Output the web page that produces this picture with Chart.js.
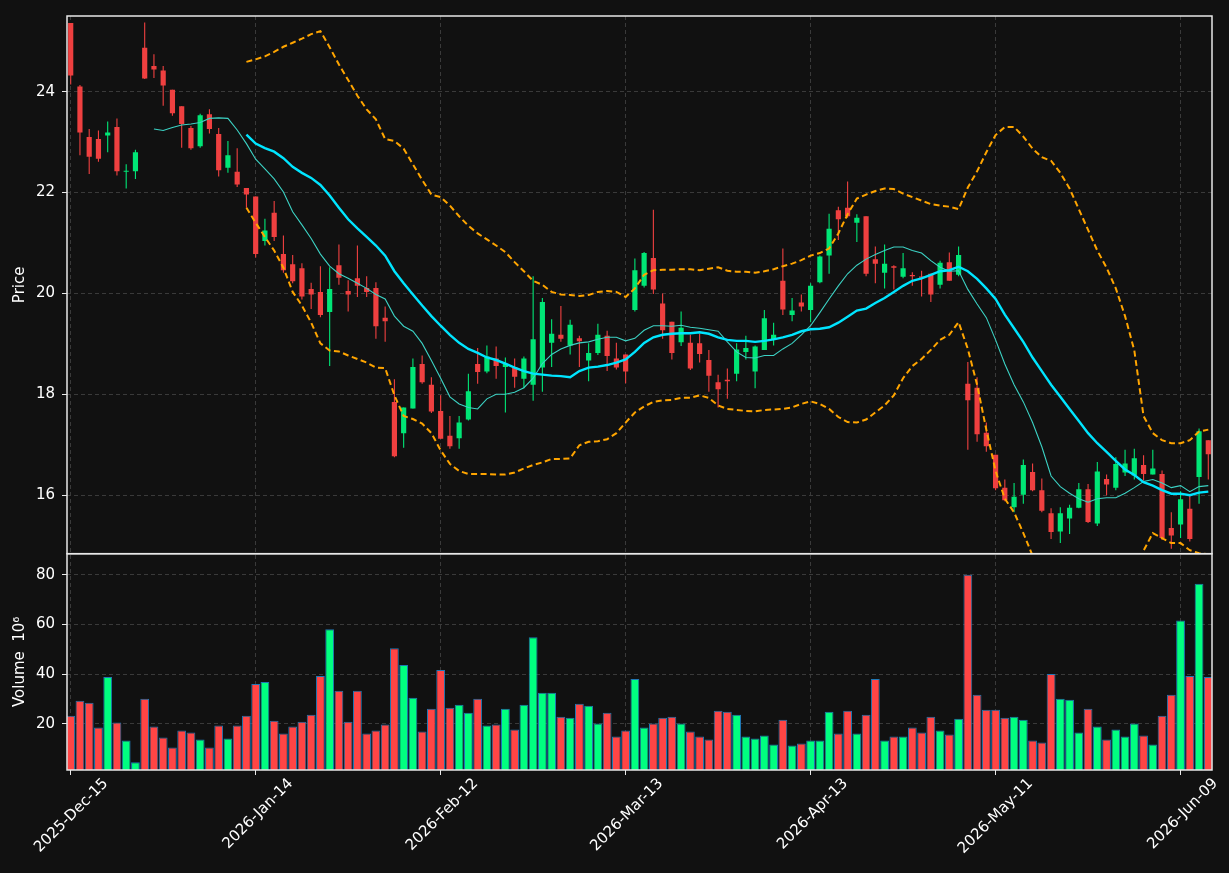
<!DOCTYPE html>
<html>
<head>
<meta charset="utf-8">
<script src="https://cdn.jsdelivr.net/npm/chart.js@4.4.1/dist/chart.umd.min.js"></script>
<style>
html,body{margin:0;padding:0;background:#111111;}
#wrap{width:1229px;height:873px;position:relative;}
canvas{display:block;}
</style>
</head>
<body>
<div id="wrap"><canvas id="c" width="1229" height="873"></canvas></div>
<script>
// ---------- data ----------
const tickLabels = ['2025-Dec-15','2026-Jan-14','2026-Feb-12','2026-Mar-13','2026-Apr-13','2026-May-11','2026-Jun-09'];
const tickIndex = [0,20,40,60,80,100,120];

const openP = [25.36,24.10,23.10,23.06,23.13,23.30,22.41,22.42,24.87,24.51,
24.42,24.04,23.71,23.28,22.92,23.55,23.16,22.49,22.41,22.09,
21.92,21.04,21.60,20.78,20.58,20.50,20.09,20.03,19.63,20.56,
20.05,20.30,20.11,20.11,19.52,17.85,17.23,17.72,18.60,18.19,
17.67,17.18,17.13,17.50,18.60,18.45,18.71,18.54,18.54,18.31,
18.19,18.53,19.02,19.18,18.97,19.11,18.67,18.82,19.16,18.71,
18.79,19.67,20.15,20.70,19.80,19.44,19.03,19.02,19.01,18.68,
18.24,18.29,18.41,18.84,18.45,18.88,19.08,20.25,19.57,19.82,
19.67,20.22,20.75,21.65,21.70,21.40,21.53,20.68,20.41,20.54,
20.33,20.36,20.33,20.39,20.17,20.62,20.37,18.21,18.13,17.24,
16.80,16.15,15.76,16.01,16.46,16.10,15.64,15.28,15.54,15.75,
16.12,15.44,16.32,16.15,16.45,16.39,16.60,16.41,16.42,15.35,
15.42,15.73,16.36,17.09];
const highP = [25.36,24.13,23.26,23.23,23.41,23.47,22.56,22.85,25.37,24.74,
24.51,24.04,23.71,23.32,23.56,23.65,23.28,23.02,22.88,22.09,
21.92,21.48,21.83,21.15,20.76,20.60,20.21,20.54,20.52,20.97,
20.26,20.95,20.34,20.22,19.74,18.30,17.74,18.71,18.77,18.34,
17.98,17.57,17.57,18.41,18.92,18.97,18.95,18.73,18.71,18.75,
20.34,19.91,19.49,19.75,19.48,19.16,19.01,19.40,19.26,19.02,
18.79,20.69,20.82,21.66,20.00,19.44,19.64,19.18,19.20,18.88,
18.39,18.51,19.01,19.16,18.97,19.67,19.42,20.89,19.91,19.98,
20.20,20.75,21.58,21.72,22.22,21.57,21.53,20.93,20.97,20.56,
20.80,20.42,20.45,20.39,20.65,20.81,20.93,18.64,18.34,17.44,
16.80,16.31,16.24,16.71,16.63,16.33,15.74,15.76,15.81,16.24,
16.22,16.66,16.41,16.75,16.90,16.92,16.79,16.90,16.49,15.66,
16.08,16.01,17.32,17.09];
const lowP = [24.14,22.74,22.37,22.61,22.80,22.34,22.08,22.27,24.25,24.27,
23.72,23.52,22.89,22.85,22.89,23.17,22.32,22.39,22.11,21.70,
20.71,20.95,21.04,20.41,20.20,19.88,19.69,19.53,18.56,20.17,
19.64,19.93,19.93,19.10,19.04,16.75,16.94,17.72,18.21,17.63,
17.12,16.92,16.92,17.48,18.21,18.42,18.31,17.64,18.13,18.12,
17.87,18.05,18.54,19.04,18.79,18.54,18.26,18.78,18.46,18.49,
18.22,19.64,20.12,19.99,19.10,18.69,18.96,18.48,18.63,18.05,
17.74,17.91,18.26,18.69,18.12,18.88,18.97,19.57,19.45,19.64,
19.43,20.20,20.39,21.06,21.50,21.02,20.34,20.20,20.10,20.08,
20.30,20.15,19.94,19.83,20.10,20.25,20.34,16.90,17.06,16.86,
16.10,15.88,15.66,15.83,16.08,15.66,15.13,15.05,15.23,15.74,
15.45,15.39,16.00,16.10,16.38,16.31,16.29,16.41,15.11,14.94,
15.15,15.08,15.83,16.31];
const closeP = [24.32,23.19,22.71,22.67,23.19,22.42,22.43,22.80,24.26,24.44,
24.12,23.57,23.36,22.88,23.53,23.26,22.44,22.74,22.16,21.96,
20.78,21.25,21.12,20.46,20.24,19.94,19.98,19.57,20.09,20.31,
19.98,20.15,20.03,19.35,19.45,16.77,17.74,18.54,18.24,17.66,
17.12,16.97,17.44,18.06,18.44,18.75,18.56,18.60,18.35,18.71,
19.09,19.83,19.20,19.10,19.38,19.05,18.82,19.18,18.76,18.53,
18.45,20.46,20.80,20.08,19.27,18.82,19.32,18.51,18.80,18.37,
18.10,18.26,18.89,18.92,18.95,19.51,19.18,19.68,19.66,19.74,
20.15,20.73,21.28,21.47,21.53,21.50,20.39,20.59,20.59,20.51,
20.50,20.34,20.31,19.98,20.61,20.25,20.76,17.88,17.21,16.97,
16.14,15.90,15.97,16.60,16.10,15.69,15.27,15.64,15.75,16.12,
15.47,16.47,16.21,16.62,16.63,16.73,16.42,16.53,15.15,15.20,
15.92,15.13,17.27,16.81];

const volume = [23.2,29.2,28.4,18.4,38.8,20.4,13.2,4.4,30.0,18.8,
14.4,10.4,17.2,16.4,13.6,10.4,19.2,14.0,19.2,23.2,
36.0,36.8,21.2,16.0,18.8,20.8,23.6,39.2,58.0,33.2,
20.8,33.2,16.0,17.2,19.6,50.4,43.6,30.4,16.8,26.0,
41.6,26.4,27.6,24.4,30.0,19.2,19.6,26.0,17.6,27.6,
54.8,32.4,32.4,22.8,22.4,28.0,27.2,20.0,24.4,14.8,
17.2,38.0,18.4,20.0,22.4,22.8,20.0,16.8,14.8,13.6,
25.2,24.8,23.6,14.8,14.0,15.2,11.6,21.6,11.2,12.0,
13.2,13.2,24.8,16.0,25.2,16.0,23.6,38.0,13.2,14.8,
14.8,18.4,16.4,22.8,17.2,15.6,22.0,80.0,31.6,25.6,
25.6,22.4,22.8,21.6,13.2,12.4,40.0,30.0,29.6,16.4,
26.0,18.8,13.6,17.6,14.8,20.0,15.2,11.6,23.2,31.6,
61.6,39.2,76.4,38.8];

// moving averages and bands (first index given separately)
const ma10Start = 9;
const ma10 = [23.26,23.23,23.29,23.34,23.36,23.39,23.47,23.48,23.47,23.24,
22.97,22.66,22.47,22.27,22.01,21.62,21.36,21.09,20.78,20.54,
20.39,20.30,20.20,20.10,19.98,19.89,19.55,19.35,19.25,19.01,
18.67,18.32,17.95,17.81,17.74,17.71,17.91,18.00,18.00,18.04,
18.13,18.32,18.61,18.79,18.90,18.97,19.02,19.04,19.09,19.13,
19.13,19.06,19.11,19.27,19.36,19.36,19.35,19.37,19.33,19.31,
19.28,19.25,19.04,18.84,18.73,18.72,18.77,18.77,18.90,19.01,
19.18,19.36,19.62,19.89,20.15,20.39,20.56,20.68,20.77,20.85,
20.92,20.92,20.85,20.80,20.65,20.52,20.44,20.45,20.08,19.79,
19.52,19.08,18.60,18.19,17.85,17.44,16.96,16.38,16.17,16.04,
15.93,15.86,15.93,15.95,15.95,16.04,16.15,16.27,16.31,16.24,
16.15,16.19,16.07,16.17,16.19];
const ma20Start = 19;
const ma20 = [23.15,22.97,22.88,22.81,22.68,22.51,22.39,22.29,22.15,21.94,
21.70,21.47,21.29,21.12,20.95,20.75,20.44,20.20,19.98,19.76,
19.55,19.36,19.18,19.02,18.90,18.82,18.73,18.68,18.61,18.53,
18.46,18.41,18.39,18.37,18.36,18.34,18.46,18.53,18.55,18.58,
18.63,18.69,18.84,19.02,19.13,19.18,19.20,19.21,19.21,19.23,
19.20,19.13,19.08,19.06,19.06,19.04,19.06,19.09,19.13,19.18,
19.25,19.29,19.30,19.33,19.42,19.54,19.66,19.70,19.81,19.91,
20.03,20.15,20.25,20.30,20.37,20.44,20.46,20.53,20.44,20.29,
20.10,19.89,19.58,19.31,19.04,18.73,18.46,18.19,17.95,17.71,
17.47,17.23,17.03,16.86,16.68,16.51,16.40,16.26,16.19,16.10,
16.03,16.03,16.00,16.05,16.07];
const bandStart = 19;
const bandUpper = [24.59,24.64,24.70,24.79,24.89,24.97,25.05,25.14,25.20,24.88,
24.54,24.23,23.92,23.65,23.45,23.06,23.02,22.87,22.56,22.25,
21.96,21.91,21.74,21.53,21.34,21.19,21.07,20.95,20.82,20.62,
20.44,20.25,20.17,20.03,19.98,19.97,19.95,19.97,20.03,20.05,
20.03,19.93,20.10,20.37,20.46,20.47,20.47,20.48,20.48,20.46,
20.49,20.52,20.45,20.43,20.43,20.41,20.44,20.48,20.54,20.59,
20.66,20.75,20.80,20.89,21.19,21.57,21.88,21.96,22.03,22.08,
22.07,21.98,21.91,21.84,21.77,21.74,21.72,21.67,22.10,22.42,
22.80,23.14,23.30,23.30,23.11,22.87,22.70,22.63,22.39,22.08,
21.67,21.26,20.85,20.51,20.10,19.55,18.87,17.57,17.23,17.09,
17.03,17.03,17.09,17.26,17.30];
const bandLower = [21.70,21.40,21.12,20.85,20.51,20.03,19.76,19.42,19.01,18.87,
18.85,18.77,18.70,18.63,18.53,18.52,17.98,17.57,17.51,17.42,
17.23,16.89,16.62,16.48,16.42,16.42,16.42,16.41,16.41,16.45,
16.53,16.60,16.65,16.72,16.72,16.73,16.99,17.06,17.07,17.11,
17.23,17.44,17.64,17.76,17.85,17.88,17.89,17.93,17.93,17.98,
17.93,17.78,17.71,17.69,17.67,17.66,17.69,17.70,17.71,17.74,
17.81,17.86,17.81,17.71,17.55,17.45,17.44,17.50,17.64,17.78,
17.98,18.32,18.56,18.70,18.88,19.08,19.18,19.43,18.90,18.19,
17.30,16.48,15.93,15.66,15.25,14.80,14.22,13.75,13.51,13.34,
13.27,13.20,13.21,13.21,13.26,13.47,13.93,14.90,15.25,15.15,
15.05,15.05,14.91,14.85,14.83];

// ---------- styling ----------
const UP = '#00e676', DOWN = '#ef4040';
const VUP = '#00ff80', VDOWN = '#ff4545';
const GRID = '#3a3a3a';
const FONT = 'DejaVu Sans';
const XMIN = -0.4, XMAX = 123.4;

const isUp = i => closeP[i] >= openP[i];
const series = (arr, start) => arr.map((v, k) => ({x: start + k, y: v}));

const wickData = highP.map((h, i) => ({x: i, y: [lowP[i], h]}));
const bodyData = openP.map((o, i) => ({x: i, y: [o, closeP[i]]}));
const volData = volume.map((v, i) => ({x: i, y: v}));

const bgPlugin = {
  id: 'bg',
  beforeDraw(chart) {
    const c = chart.ctx;
    c.save(); c.fillStyle = '#111111'; c.fillRect(0, 0, chart.width, chart.height); c.restore();
  }
};
const clipPlugin = {
  id: 'panelClip',
  beforeDatasetDraw(chart, args) {
    const ys = chart.scales[args.meta.yAxisID];
    const a = chart.chartArea;
    chart.ctx.save();
    chart.ctx.beginPath();
    chart.ctx.rect(a.left, ys.top, a.right - a.left, ys.bottom - ys.top);
    chart.ctx.clip();
  },
  afterDatasetDraw(chart) { chart.ctx.restore(); }
};
const framePlugin = {
  id: 'frames',
  afterDraw(chart) {
    const c = chart.ctx, a = chart.chartArea;
    c.save();
    c.strokeStyle = '#e8e8e8'; c.lineWidth = 1.5;
    ['y', 'yv'].forEach(id => {
      const s = chart.scales[id];
      c.strokeRect(a.left, s.top, a.right - a.left, s.bottom - s.top);
    });
    c.restore();
  }
};

Chart.defaults.font.family = FONT;
Chart.defaults.font.size = 15;
Chart.defaults.color = '#ffffff';

new Chart(document.getElementById('c'), {
  type: 'bar',
  data: {
    datasets: [
      {type: 'line', label: 'MA20', data: series(ma20, ma20Start), yAxisID: 'y', borderColor: '#00e5ff', borderWidth: 2.4, pointRadius: 0, order: 0},
      {type: 'line', label: 'MA10', data: series(ma10, ma10Start), yAxisID: 'y', borderColor: '#3cd2c4', borderWidth: 1.1, pointRadius: 0, order: 0},
      {type: 'line', label: 'Upper', data: series(bandUpper, bandStart), yAxisID: 'y', borderColor: '#ffa500', borderWidth: 2, borderDash: [6, 3.5], pointRadius: 0, order: 0},
      {type: 'line', label: 'Lower', data: series(bandLower, bandStart), yAxisID: 'y', borderColor: '#ffa500', borderWidth: 2, borderDash: [6, 3.5], pointRadius: 0, order: 0},
      {label: 'Wick', data: wickData, yAxisID: 'y', grouped: false, categoryPercentage: 1, barPercentage: 0.12, maxBarThickness: 1.2,
       backgroundColor: ctx => isUp(ctx.dataIndex) ? UP : DOWN, borderWidth: 0, order: 1},
      {label: 'Body', data: bodyData, yAxisID: 'y', grouped: false, categoryPercentage: 1, barPercentage: 0.56, minBarLength: 1.2,
       backgroundColor: ctx => isUp(ctx.dataIndex) ? UP : DOWN, borderWidth: 0, order: 1},
      {label: 'Volume', data: volData, yAxisID: 'yv', grouped: false, categoryPercentage: 1, barPercentage: 0.95,
       backgroundColor: ctx => isUp(ctx.dataIndex) ? VUP : VDOWN, borderColor: '#1f77b4', borderWidth: 1, borderSkipped: false, order: 2}
    ]
  },
  options: {
    responsive: false,
    animation: false,
    devicePixelRatio: 1,
    layout: {padding: {top: 10, right: 17, left: 0, bottom: 0}},
    plugins: {legend: {display: false}, tooltip: {enabled: false}},
    scales: {
      x: {
        type: 'linear', position: 'bottom', min: XMIN, max: XMAX, offset: false,
        afterBuildTicks(s) { s.min = XMIN; s.max = XMAX; s.ticks = tickIndex.map(v => ({value: v})); },
        afterFit(s) { s.height = 103; s.paddingLeft = 0; s.paddingRight = 0; },
        ticks: {
          autoSkip: false, maxRotation: 45, minRotation: 45, includeBounds: false, stepSize: 20,
          color: '#ffffff', font: {size: 15}, padding: 0, labelOffset: 35,
          callback: (v, i) => tickLabels[i]
        },
        grid: {offset: false, color: GRID, lineWidth: 1, drawTicks: true, tickLength: 5, tickColor: '#e8e8e8'},
        border: {display: false, dash: [4, 3]}
      },
      y: {
        type: 'linear', position: 'left', stack: 'panels', stackWeight: 2.486, weight: 2,
        min: 14.84, max: 25.5,
        afterBuildTicks(s) { s.min = 14.84; s.max = 25.5; s.ticks = [16, 18, 20, 22, 24].map(v => ({value: v})); },
        afterFit(s) { s.width = 67; },
        title: {display: true, text: 'Price', color: '#ffffff', font: {size: 15}, padding: {top: 11, bottom: 0}},
        ticks: {color: '#ffffff', font: {size: 15}, padding: 7, includeBounds: false, stepSize: 2},
        grid: {color: GRID, lineWidth: 1, tickLength: 5, tickColor: '#e8e8e8'},
        border: {display: false, dash: [4, 3]}
      },
      yv: {
        type: 'linear', position: 'left', stack: 'panels', stackWeight: 1, weight: 1,
        min: 1.3, max: 88.5,
        afterBuildTicks(s) { s.min = 1.3; s.max = 88.5; s.ticks = [20, 40, 60, 80].map(v => ({value: v})); },
        afterFit(s) { s.width = 67; },
        title: {display: true, text: 'Volume  10\u2076', color: '#ffffff', font: {size: 15}, padding: {top: 11, bottom: 0}},
        ticks: {color: '#ffffff', font: {size: 15}, padding: 7, includeBounds: false, stepSize: 20},
        grid: {color: GRID, lineWidth: 1, tickLength: 5, tickColor: '#e8e8e8'},
        border: {display: false, dash: [4, 3]}
      }
    }
  },
  plugins: [bgPlugin, clipPlugin, framePlugin]
});
</script>
</body>
</html>
